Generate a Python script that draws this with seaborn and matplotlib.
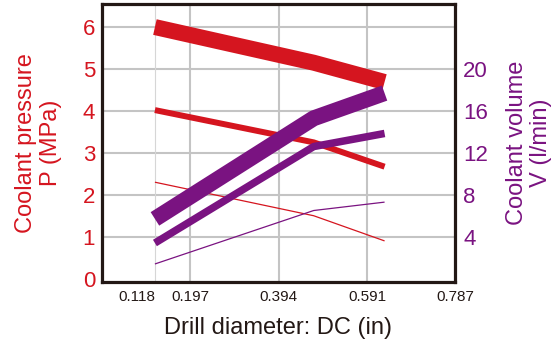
import matplotlib
matplotlib.use("Agg")
import matplotlib.pyplot as plt
import seaborn as sns
import pandas as pd

# drill diameter (in) where each curve is sampled
diameter_in = [0.118, 0.472, 0.63]

# coolant pressure P (MPa), three supply levels
pressure_high = [6.0, 5.15, 4.69]
pressure_mid = [4.02, 3.25, 2.67]
pressure_low = [2.3, 1.5, 0.9]

# coolant volume V (l/min), three supply levels
volume_high = [5.7, 15.3, 17.7]
volume_mid = [3.4, 12.6, 13.85]
volume_low = [1.4, 6.5, 7.3]

x_ticks = [0.118, 0.197, 0.394, 0.591, 0.787]
x_ticklabels = ["0.118", "0.197", "0.394", "0.591", "0.787"]
p_ticks = [0, 1, 2, 3, 4, 5, 6]
v_ticks = [4, 8, 12, 16, 20]

RED = "#d5151f"
PURPLE = "#7a1381"
DARK = "#231815"
GRID = "#c4c4c4"

sns.set_style("white")
plt.rcParams["font.family"] = ["Liberation Sans", "DejaVu Sans"]

fig = plt.figure(figsize=(5.59, 3.47), dpi=100)
ax = fig.add_axes([102 / 559, 1 - 282 / 347, 353 / 559, 278 / 347])
ax2 = ax.twinx()

pressure = pd.DataFrame({"d": diameter_in, "high": pressure_high,
                         "mid": pressure_mid, "low": pressure_low})
volume = pd.DataFrame({"d": diameter_in, "high": volume_high,
                       "mid": volume_mid, "low": volume_low})

# grid
for y in p_ticks[1:]:
    ax.axhline(y, color=GRID, lw=1.5, zorder=0)
for x in x_ticks[1:4]:
    ax.axvline(x, color=GRID, lw=1.5, zorder=0)
ax.axvline(x_ticks[0], color="#d6d6d6", lw=0.8, zorder=0)

widths_p = {"high": 11.5, "mid": 4.3, "low": 0.9}
widths_v = {"high": 11.5, "mid": 5.4, "low": 0.9}

for col in ["high", "mid", "low"]:
    sns.lineplot(data=pressure, x="d", y=col, ax=ax, color=RED,
                 linewidth=widths_p[col], solid_capstyle="butt",
                 solid_joinstyle="round", zorder=3)
for col in ["high", "mid", "low"]:
    sns.lineplot(data=volume, x="d", y=col, ax=ax2, color=PURPLE,
                 linewidth=widths_v[col], solid_capstyle="butt",
                 solid_joinstyle="round", zorder=3)

ax.set_xlim(0, 0.787)
ax.set_ylim(-0.08, 6.55)
ax2.set_ylim(-0.32, 26.2)

ax.set_xticks(x_ticks)
ax.set_xticklabels(x_ticklabels, fontsize=11, color=DARK)
ax.get_xticklabels()[0].set_ha("right")
ax.set_yticks(p_ticks)
ax.set_yticklabels([str(v) for v in p_ticks], fontsize=16, color=RED)
ax2.set_yticks(v_ticks)
ax2.set_yticklabels([str(v) for v in v_ticks], fontsize=16, color=PURPLE)
ax.tick_params(axis="x", length=0, pad=6)
ax.tick_params(axis="y", length=0, pad=5)
ax2.tick_params(axis="y", length=0, pad=6)

ax.set_xlabel("Drill diameter: DC (in)", fontsize=17, color=DARK)
ax.xaxis.set_label_coords(0.5, -0.125)
ax.set_ylabel("Coolant pressure\nP (MPa)", fontsize=17, color=RED,
              linespacing=1.2)
ax.yaxis.set_label_coords(-0.113, 0.5)
ax2.set_ylabel("Coolant volume\nV (l/min)", fontsize=17, color=PURPLE,
               rotation=90, linespacing=1.1)
ax2.yaxis.set_label_coords(1.144, 0.5)

for s in ax.spines.values():
    s.set_color(DARK)
    s.set_linewidth(2.3)
for s in ax2.spines.values():
    s.set_visible(False)

plt.savefig("out.png", dpi=100)
